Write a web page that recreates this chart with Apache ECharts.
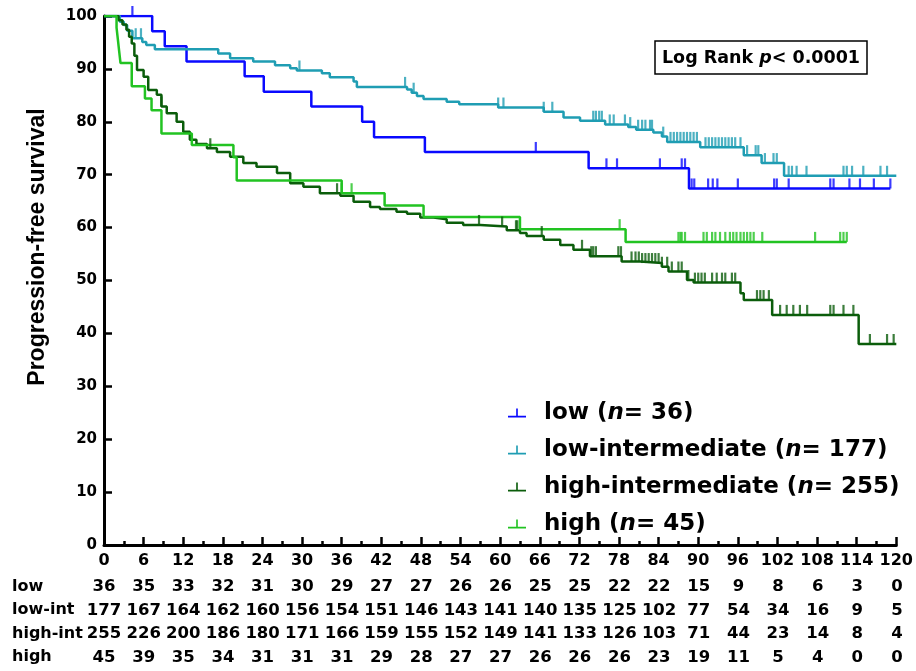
<!DOCTYPE html>
<html>
<head>
<meta charset="utf-8">
<script src="https://cdn.jsdelivr.net/npm/echarts@6/dist/echarts.min.js"></script>
<style>
  html, body { margin: 0; padding: 0; background: #fff; }
  #km-chart { width: 916px; height: 671px; }
</style>
</head>
<body>
<div id="km-chart"></div>
<script>
// groups
var groupNames = ['low', 'low-intermediate', 'high-intermediate', 'high']
var groupN = [36, 177, 255, 45]
var groupColors = ['#0a0aff', '#1f9db3', '#0b5d0b', '#22c322']

// survival steps (months, %)
var lowT = [0, 7.3, 9.2, 12.5, 21.3, 24.2, 31.4, 39.1, 40.9, 48.6, 73.4, 88.6, 119.1]
var lowS = [100, 97.1, 94.3, 91.4, 88.6, 85.7, 82.9, 80.0, 77.1, 74.3, 71.2, 67.4, 67.4]
var lowCensor = [4.3, 65.4, 76.1, 77.7, 84.2, 87.5, 88.0, 89.0, 89.4, 91.5, 92.2, 92.9, 96.0, 101.5, 101.9, 103.7, 110.0, 110.5, 112.9, 114.5, 116.6, 119.1]

var lowIntT = [0, 2.4, 3.0, 3.5, 4.3, 5.8, 6.4, 7.7, 17.3, 19.1, 22.6, 25.9, 28.2, 29.2, 33.0, 34.2, 37.8, 38.3, 45.9, 46.6, 47.4, 48.4, 51.9, 53.8, 59.7, 66.6, 69.6, 72.1, 75.9, 79.4, 80.6, 83.2, 84.5, 85.3, 90.3, 96.9, 99.6, 103.0, 120]
var lowIntS = [100, 98.9, 98.3, 97.2, 95.8, 95.1, 94.5, 93.7, 92.9, 92.0, 91.4, 90.7, 90.1, 89.7, 89.2, 88.4, 87.6, 86.6, 86.1, 85.5, 84.9, 84.3, 83.8, 83.3, 82.7, 81.9, 80.8, 80.2, 79.5, 79.0, 78.5, 78.0, 77.2, 76.2, 75.2, 73.7, 72.2, 69.8, 69.8]
var lowIntCensor = [4.8, 5.6, 29.6, 45.6, 46.9, 59.7, 60.5, 66.6, 67.9, 74.1, 74.5, 75.0, 75.4, 76.6, 77.2, 78.9, 79.7, 80.9, 81.5, 82.0, 82.7, 83.0, 84.7, 85.8, 86.3, 86.8, 87.3, 87.8, 88.3, 88.8, 89.3, 89.8, 91.1, 91.6, 92.1, 92.6, 93.1, 93.6, 94.1, 94.6, 95.1, 95.6, 96.4, 97.4, 98.7, 99.1, 100.1, 101.4, 101.9, 103.7, 104.2, 104.9, 106.4, 112.0, 112.5, 113.3, 115.0, 117.6, 118.6]

var highIntT = [0, 2.2, 2.8, 3.4, 3.8, 4.2, 4.6, 5.0, 6.0, 6.7, 8.0, 8.7, 9.5, 11.0, 12.0, 13.0, 14.0, 15.6, 17.1, 19.1, 21.1, 23.1, 26.2, 28.2, 30.2, 32.7, 35.8, 37.8, 40.3, 41.8, 44.3, 45.9, 47.9, 49.9, 51.9, 54.4, 57.0, 61.0, 63.0, 64.0, 66.6, 69.1, 71.1, 73.6, 78.4, 81.2, 84.5, 85.5, 88.3, 89.3, 96.4, 96.9, 101.2, 114.3, 120]
var highIntS = [100, 99.2, 98.4, 97.4, 96.1, 94.8, 92.5, 89.8, 88.5, 86.0, 85.1, 82.9, 81.6, 80.0, 78.1, 76.6, 75.8, 75.0, 74.3, 73.4, 72.2, 71.5, 70.3, 68.4, 67.7, 66.5, 66.0, 64.9, 63.9, 63.5, 63.0, 62.6, 61.9, 61.6, 60.9, 60.5, 60.2, 59.5, 59.0, 58.4, 57.7, 56.7, 55.8, 54.6, 53.6, 53.3, 52.6, 51.7, 50.1, 49.6, 47.6, 46.3, 43.5, 38.0, 38.0]
var highIntCensor = [8.7, 16.1, 35.3, 56.8, 60.3, 62.4, 62.6, 66.3, 72.4, 73.8, 74.1, 74.5, 77.9, 78.3, 79.9, 80.5, 81.0, 81.5, 82.0, 82.5, 83.0, 83.5, 84.0, 84.5, 85.3, 86.0, 87.0, 87.5, 88.5, 89.5, 90.0, 90.5, 91.0, 92.1, 92.8, 93.6, 94.1, 95.1, 95.6, 98.9, 99.4, 99.9, 100.7, 102.4, 103.4, 104.4, 105.4, 106.5, 110.0, 110.5, 112.0, 113.5, 116.0, 118.6, 119.6]

var highT = [0, 1.9, 2.1, 2.3, 2.5, 4.2, 6.2, 7.2, 8.7, 13.3, 19.6, 20.1, 36.0, 42.5, 48.4, 63.0, 79.0, 112.5]
var highS = [100, 97.8, 95.6, 93.3, 91.1, 86.7, 84.4, 82.2, 77.8, 75.6, 73.3, 68.9, 66.5, 64.2, 62.0, 59.7, 57.3, 57.3]
var highCensor = [36.0, 37.5, 78.1, 87.0, 87.3, 87.5, 88.0, 90.8, 91.3, 92.1, 92.6, 93.3, 94.1, 94.8, 95.3, 95.8, 96.4, 96.9, 97.4, 97.9, 98.4, 99.7, 107.7, 111.5, 112.0, 112.5]

// numbers at risk
var riskMonths = [0, 6, 12, 18, 24, 30, 36, 42, 48, 54, 60, 66, 72, 78, 84, 90, 96, 102, 108, 114, 120]
var riskRows = ['low', 'low-int', 'high-int', 'high']
var riskLow = [36, 35, 33, 32, 31, 30, 29, 27, 27, 26, 26, 25, 25, 22, 22, 15, 9, 8, 6, 3, 0]
var riskLowInt = [177, 167, 164, 162, 160, 156, 154, 151, 146, 143, 141, 140, 135, 125, 102, 77, 54, 34, 16, 9, 5]
var riskHighInt = [255, 226, 200, 186, 180, 171, 166, 159, 155, 152, 149, 141, 133, 126, 103, 71, 44, 23, 14, 8, 4]
var riskHigh = [45, 39, 35, 34, 31, 31, 31, 29, 28, 27, 27, 26, 26, 26, 23, 19, 11, 5, 4, 0, 0]

var FONT = 'DejaVu Sans'
var legendIcon = 'path://M0,9 L10,9 L10,0 L12,0 L12,9 L22,9 L22,11 L0,11 Z'

function levelAt(ts, ss, t) {
  var v = ss[0]
  for (var i = 0; i < ts.length; i++) {
    if (ts[i] <= t) v = ss[i]
  }
  return v
}

var curves = [
  { t: lowT, s: lowS, c: lowCensor },
  { t: lowIntT, s: lowIntS, c: lowIntCensor },
  { t: highIntT, s: highIntS, c: highIntCensor },
  { t: highT, s: highS, c: highCensor }
]
var riskData = [riskLow, riskLowInt, riskHighInt, riskHigh]

var series = []
curves.forEach(function (cv, k) {
  series.push({
    name: groupNames[k],
    type: 'line',
    step: 'end',
    showSymbol: false,
    xAxisIndex: 0,
    yAxisIndex: 0,
    color: groupColors[k],
    lineStyle: { color: groupColors[k], width: 2.5 },
    z: 3,
    data: cv.t.map(function (t, i) { return [t, cv.s[i]] })
  })
})
curves.forEach(function (cv, k) {
  series.push({
    name: groupNames[k] + ' censored',
    type: 'scatter',
    xAxisIndex: 0,
    yAxisIndex: 0,
    symbol: 'rect',
    symbolSize: [2.2, 10],
    symbolOffset: [0, -5],
    itemStyle: { color: groupColors[k] },
    z: 4,
    data: cv.c.map(function (t) { return [t, levelAt(cv.t, cv.s, t)] })
  })
})
// numbers-at-risk table
riskData.forEach(function (row, k) {
  series.push({
    name: 'risk ' + riskRows[k],
    type: 'scatter',
    xAxisIndex: 1,
    yAxisIndex: 1,
    symbolSize: 2,
    itemStyle: { color: 'rgba(0,0,0,0)' },
    label: {
      show: true,
      position: 'inside',
      formatter: function (p) { return String(p.value[2]) },
      color: '#000',
      opacity: 1,
      textBorderWidth: 0,
      fontFamily: FONT,
      fontWeight: 'bold',
      fontSize: 16.5
    },
    data: row.map(function (v, i) { return [riskMonths[i], k, v] })
  })
})

var chart = echarts.init(document.getElementById('km-chart'))
chart.setOption({
  animation: false,
  backgroundColor: '#fff',
  grid: [
    { left: 104, right: 19, top: 16, bottom: 126 },
    { left: 104, right: 19, top: 575, height: 94 }
  ],
  xAxis: [
    {
      gridIndex: 0,
      type: 'value',
      min: 0,
      max: 120,
      interval: 6,
      axisLine: { lineStyle: { color: '#000', width: 3 } },
      axisTick: { inside: true, length: 8, lineStyle: { color: '#000', width: 2.5 } },
      minorTick: { show: true, splitNumber: 2, length: 4, lineStyle: { color: '#000', width: 2.5 } },
      splitLine: { show: false },
      axisLabel: { margin: 8, color: '#000', fontFamily: FONT, fontWeight: 'bold', fontSize: 16 }
    },
    {
      gridIndex: 1,
      type: 'value',
      min: 0,
      max: 120,
      axisLine: { show: false },
      axisTick: { show: false },
      axisLabel: { show: false },
      splitLine: { show: false }
    }
  ],
  yAxis: [
    {
      gridIndex: 0,
      type: 'value',
      min: 0,
      max: 100,
      interval: 10,
      axisLine: { show: true, lineStyle: { color: '#000', width: 3 } },
      axisTick: { show: true, inside: true, length: 8, lineStyle: { color: '#000', width: 2.5 } },
      splitLine: { show: false },
      axisLabel: { margin: 7, color: '#000', fontFamily: FONT, fontWeight: 'bold', fontSize: 15 }
    },
    {
      gridIndex: 1,
      type: 'category',
      inverse: true,
      data: riskRows,
      axisLine: { show: false },
      axisTick: { show: false },
      splitLine: { show: false },
      axisLabel: { align: 'left', margin: 92, color: '#000', fontFamily: FONT, fontWeight: 'bold', fontSize: 16 }
    }
  ],
  legend: {
    orient: 'vertical',
    left: 503,
    top: 395,
    itemWidth: 24,
    itemHeight: 9,
    itemGap: 11,
    icon: legendIcon,
    data: groupNames,
    formatter: function (name) {
      var n = groupN[groupNames.indexOf(name)]
      return '{b|' + name + ' (}{i|n}{b|= ' + n + ')}'
    },
    textStyle: {
      padding: [0, 0, 0, 10],
      lineHeight: 26,
      rich: {
        b: { fontFamily: FONT, fontWeight: 'bold', fontSize: 23, color: '#000', lineHeight: 26 },
        i: { fontFamily: FONT, fontWeight: 'bold', fontStyle: 'italic', fontSize: 23, color: '#000', lineHeight: 26 }
      }
    }
  },
  graphic: [
    {
      type: 'text',
      x: 38,
      y: 247,
      rotation: Math.PI / 2,
      style: {
        text: 'Progression-free survival',
        font: 'bold 23px "Liberation Sans"',
        fill: '#000',
        align: 'center',
        verticalAlign: 'middle',
        textAlign: 'center',
        textVerticalAlign: 'middle'
      }
    },
    {
      type: 'rect',
      shape: { x: 655, y: 41, width: 212, height: 33 },
      style: { fill: '#fff', stroke: '#000', lineWidth: 1.5 }
    },
    {
      type: 'text',
      x: 761,
      y: 58,
      style: {
        text: '{b|Log Rank }{i|p}{b|< 0.0001}',
        align: 'center',
        verticalAlign: 'middle',
        textAlign: 'center',
        textVerticalAlign: 'middle',
        rich: {
          b: { fontFamily: FONT, fontWeight: 'bold', fontSize: 17.5, fill: '#000' },
          i: { fontFamily: FONT, fontWeight: 'bold', fontStyle: 'italic', fontSize: 17.5, fill: '#000' }
        }
      }
    }
  ],
  series: series
})
</script>
</body>
</html>
